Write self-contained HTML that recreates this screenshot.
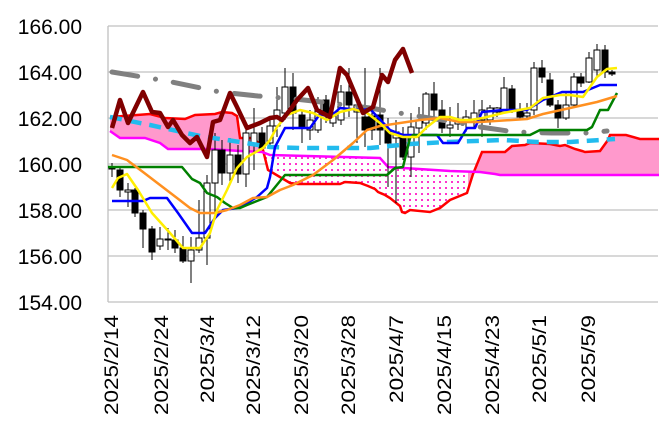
<!DOCTYPE html>
<html><head><meta charset="utf-8"><style>body{margin:0;background:#fff}svg{display:block}</style></head><body>
<svg width="659" height="427" xmlns="http://www.w3.org/2000/svg" font-family="Liberation Sans, sans-serif">
<defs>
<pattern id="dots" width="6" height="6" patternUnits="userSpaceOnUse"><rect width="6" height="6" fill="#fff"/><rect x="1" y="1" width="2" height="2" fill="#ff33cc"/></pattern>
<clipPath id="c1"><rect x="100" y="0" width="165" height="427"/><rect x="468" y="0" width="200" height="427"/></clipPath>
<clipPath id="c2"><rect x="265" y="0" width="203" height="427"/></clipPath>
</defs>
<g stroke="#c0c0c0" stroke-width="1.3">
<line x1="108" y1="26" x2="658" y2="26"/><line x1="108" y1="72" x2="658" y2="72"/><line x1="108" y1="118" x2="658" y2="118"/><line x1="108" y1="164" x2="658" y2="164"/><line x1="108" y1="210" x2="658" y2="210"/><line x1="108" y1="256" x2="658" y2="256"/><line x1="108" y1="302" x2="658" y2="302"/><line x1="108" y1="26" x2="108" y2="302"/>
</g>
<g font-size="21" text-anchor="end" fill="#000">
<text x="82" y="34">166.00</text><text x="82" y="80">164.00</text><text x="82" y="126">162.00</text><text x="82" y="172">160.00</text><text x="82" y="218">158.00</text><text x="82" y="264">156.00</text><text x="82" y="310">154.00</text>
</g>
<g font-size="19" text-anchor="end" fill="#000">
<text transform="translate(118,315) rotate(-90)" textLength="100" lengthAdjust="spacingAndGlyphs">2025/2/14</text>
<text transform="translate(168,315) rotate(-90)" textLength="100" lengthAdjust="spacingAndGlyphs">2025/2/24</text>
<text transform="translate(214,315) rotate(-90)" textLength="88" lengthAdjust="spacingAndGlyphs">2025/3/4</text>
<text transform="translate(260,315) rotate(-90)" textLength="100" lengthAdjust="spacingAndGlyphs">2025/3/12</text>
<text transform="translate(308,315) rotate(-90)" textLength="100" lengthAdjust="spacingAndGlyphs">2025/3/20</text>
<text transform="translate(355,315) rotate(-90)" textLength="100" lengthAdjust="spacingAndGlyphs">2025/3/28</text>
<text transform="translate(403,315) rotate(-90)" textLength="88" lengthAdjust="spacingAndGlyphs">2025/4/7</text>
<text transform="translate(451,315) rotate(-90)" textLength="100" lengthAdjust="spacingAndGlyphs">2025/4/15</text>
<text transform="translate(499,315) rotate(-90)" textLength="100" lengthAdjust="spacingAndGlyphs">2025/4/23</text>
<text transform="translate(546,315) rotate(-90)" textLength="88" lengthAdjust="spacingAndGlyphs">2025/5/1</text>
<text transform="translate(595,315) rotate(-90)" textLength="88" lengthAdjust="spacingAndGlyphs">2025/5/9</text>
</g>
<g id="cloud">
<polygon clip-path="url(#c1)" fill="#ff99cc" points="110,117 150,114 165,118 185,119 195,115 215,114 222,112 232,113 237,116 240,138 253,138 262,146 268,170 290,183 298,184 340,184 345,182 360,183 368,186 375,189 378,192 385,195 390,198 400,206 402,212 405,213 410,210 430,212 440,208 450,200 467,193 473,174 482,152 505,152 512,146 525,145 530,143 550,144 560,146 565,145 575,149 582,151 585,152 600,151 608,140 610,135 626,135 640,139 660,139 660,175 530,175 500,175 495,174 480,172 450,171 388,167 380,158 270,155 262,152 240,151 210,149 168,149 160,143 145,138 120,138 110,131"/>
<polygon clip-path="url(#c2)" fill="url(#dots)" points="110,117 150,114 165,118 185,119 195,115 215,114 222,112 232,113 237,116 240,138 253,138 262,146 268,170 290,183 298,184 340,184 345,182 360,183 368,186 375,189 378,192 385,195 390,198 400,206 402,212 405,213 410,210 430,212 440,208 450,200 467,193 473,174 482,152 505,152 512,146 525,145 530,143 550,144 560,146 565,145 575,149 582,151 585,152 600,151 608,140 610,135 626,135 640,139 660,139 660,175 530,175 500,175 495,174 480,172 450,171 388,167 380,158 270,155 262,152 240,151 210,149 168,149 160,143 145,138 120,138 110,131"/>
<polyline fill="none" stroke="#ff0000" stroke-width="2.5" points="110,117 150,114 165,118 185,119 195,115 215,114 222,112 232,113 237,116 240,138 253,138 262,146 268,170 290,183 298,184 340,184 345,182 360,183 368,186 375,189 378,192 385,195 390,198 400,206 402,212 405,213 410,210 430,212 440,208 450,200 467,193 473,174 482,152 505,152 512,146 525,145 530,143 550,144 560,146 565,145 575,149 582,151 585,152 600,151 608,140 610,135 626,135 640,139 660,139"/>
<polyline fill="none" stroke="#ff00ff" stroke-width="2.5" points="110,131 120,138 145,138 160,143 168,149 210,149 240,151 262,152 270,155 380,158 388,167 450,171 480,172 495,174 500,175 530,175 660,175"/>
</g>
<g stroke="#000" stroke-width="1" shape-rendering="crispEdges">
<line x1="112" y1="163" x2="112" y2="177"/><rect x="109" y="167" width="6" height="2" fill="#000"/>
<line x1="120" y1="167" x2="120" y2="197"/><rect x="117" y="170" width="6" height="20" fill="#000"/>
<line x1="128" y1="183" x2="128" y2="207"/><rect x="125" y="190" width="6" height="2" fill="#fff"/>
<line x1="135" y1="188" x2="135" y2="217"/><rect x="132" y="190" width="6" height="23" fill="#000"/>
<line x1="143" y1="210" x2="143" y2="248"/><rect x="140" y="213" width="6" height="16" fill="#000"/>
<line x1="152" y1="226" x2="152" y2="260"/><rect x="149" y="229" width="6" height="23" fill="#000"/>
<line x1="160" y1="227" x2="160" y2="250"/><rect x="157" y="239" width="6" height="7" fill="#fff"/>
<line x1="168" y1="228" x2="168" y2="250"/><rect x="165" y="239" width="6" height="1" fill="#fff"/>
<line x1="175" y1="230" x2="175" y2="253"/><rect x="172" y="240" width="6" height="8" fill="#000"/>
<line x1="183" y1="236" x2="183" y2="263"/><rect x="180" y="248" width="6" height="13" fill="#000"/>
<line x1="191" y1="237" x2="191" y2="283"/><rect x="188" y="250" width="6" height="11" fill="#fff"/>
<line x1="199" y1="200" x2="199" y2="253"/><rect x="196" y="238" width="6" height="12" fill="#fff"/>
<line x1="207" y1="175" x2="207" y2="265"/><rect x="204" y="183" width="6" height="55" fill="#fff"/>
<line x1="215" y1="133" x2="215" y2="220"/><rect x="212" y="150" width="6" height="33" fill="#fff"/>
<line x1="222" y1="140" x2="222" y2="185"/><rect x="219" y="150" width="6" height="23" fill="#000"/>
<line x1="230" y1="138" x2="230" y2="183"/><rect x="227" y="155" width="6" height="18" fill="#fff"/>
<line x1="238" y1="145" x2="238" y2="183"/><rect x="235" y="155" width="6" height="19" fill="#000"/>
<line x1="246" y1="127" x2="246" y2="187"/><rect x="243" y="133" width="6" height="41" fill="#fff"/>
<line x1="254" y1="108" x2="254" y2="170"/><rect x="251" y="133" width="6" height="10" fill="#fff"/>
<line x1="262" y1="127" x2="262" y2="150"/><rect x="259" y="133" width="6" height="15" fill="#000"/>
<line x1="270" y1="120" x2="270" y2="147"/><rect x="267" y="126" width="6" height="17" fill="#fff"/>
<line x1="277" y1="87" x2="277" y2="137"/><rect x="274" y="110" width="6" height="16" fill="#fff"/>
<line x1="285" y1="68" x2="285" y2="120"/><rect x="282" y="87" width="6" height="26" fill="#fff"/>
<line x1="293" y1="73" x2="293" y2="130"/><rect x="290" y="87" width="6" height="26" fill="#000"/>
<line x1="302" y1="110" x2="302" y2="143"/><rect x="299" y="115" width="6" height="13" fill="#000"/>
<line x1="310" y1="110" x2="310" y2="140"/><rect x="307" y="120" width="6" height="10" fill="#fff"/>
<line x1="318" y1="97" x2="318" y2="133"/><rect x="315" y="100" width="6" height="30" fill="#fff"/>
<line x1="326" y1="95" x2="326" y2="123"/><rect x="323" y="100" width="6" height="13" fill="#000"/>
<line x1="333" y1="105" x2="333" y2="127"/><rect x="330" y="113" width="6" height="10" fill="#fff"/>
<line x1="341" y1="85" x2="341" y2="125"/><rect x="338" y="92" width="6" height="28" fill="#fff"/>
<line x1="349" y1="68" x2="349" y2="117"/><rect x="346" y="92" width="6" height="13" fill="#000"/>
<line x1="357" y1="97" x2="357" y2="143"/><rect x="354" y="105" width="6" height="7" fill="#fff"/>
<line x1="365" y1="68" x2="365" y2="147"/><rect x="362" y="117" width="6" height="13" fill="#000"/>
<line x1="372" y1="110" x2="372" y2="140"/><rect x="369" y="116" width="6" height="14" fill="#000"/>
<line x1="380" y1="68" x2="380" y2="145"/><rect x="377" y="115" width="6" height="15" fill="#000"/>
<line x1="388" y1="118" x2="388" y2="187"/><rect x="385" y="130" width="6" height="13" fill="#000"/>
<line x1="396" y1="120" x2="396" y2="203"/><rect x="393" y="132" width="6" height="6" fill="#fff"/>
<line x1="403" y1="127" x2="403" y2="160"/><rect x="400" y="137" width="6" height="20" fill="#000"/>
<line x1="411" y1="113" x2="411" y2="177"/><rect x="408" y="127" width="6" height="30" fill="#fff"/>
<line x1="419" y1="107" x2="419" y2="153"/><rect x="416" y="120" width="6" height="8" fill="#fff"/>
<line x1="426" y1="92" x2="426" y2="130"/><rect x="423" y="94" width="6" height="29" fill="#fff"/>
<line x1="434" y1="82" x2="434" y2="117"/><rect x="431" y="94" width="6" height="16" fill="#000"/>
<line x1="442" y1="100" x2="442" y2="133"/><rect x="439" y="110" width="6" height="18" fill="#000"/>
<line x1="450" y1="107" x2="450" y2="137"/><rect x="447" y="125" width="6" height="3" fill="#fff"/>
<line x1="458" y1="103" x2="458" y2="130"/><rect x="455" y="121" width="6" height="3" fill="#fff"/>
<line x1="466" y1="110" x2="466" y2="132"/><rect x="463" y="117" width="6" height="4" fill="#fff"/>
<line x1="474" y1="100" x2="474" y2="127"/><rect x="471" y="113" width="6" height="7" fill="#fff"/>
<line x1="482" y1="100" x2="482" y2="137"/><rect x="479" y="110" width="6" height="10" fill="#fff"/>
<line x1="490" y1="105" x2="490" y2="125"/><rect x="487" y="108" width="6" height="12" fill="#fff"/>
<line x1="497" y1="107" x2="497" y2="117"/><rect x="494" y="108" width="6" height="4" fill="#fff"/>
<line x1="504" y1="77" x2="504" y2="113"/><rect x="501" y="88" width="6" height="24" fill="#fff"/>
<line x1="512" y1="85" x2="512" y2="113"/><rect x="509" y="89" width="6" height="22" fill="#000"/>
<line x1="520" y1="103" x2="520" y2="120"/><rect x="517" y="110" width="6" height="7" fill="#000"/>
<line x1="527" y1="103" x2="527" y2="120"/><rect x="524" y="113" width="6" height="3" fill="#fff"/>
<line x1="534" y1="62" x2="534" y2="115"/><rect x="531" y="68" width="6" height="42" fill="#fff"/>
<line x1="542" y1="60" x2="542" y2="83"/><rect x="539" y="68" width="6" height="9" fill="#000"/>
<line x1="550" y1="73" x2="550" y2="107"/><rect x="547" y="80" width="6" height="25" fill="#000"/>
<line x1="558" y1="100" x2="558" y2="128"/><rect x="555" y="105" width="6" height="13" fill="#000"/>
<line x1="566" y1="93" x2="566" y2="120"/><rect x="563" y="105" width="6" height="13" fill="#fff"/>
<line x1="574" y1="73" x2="574" y2="107"/><rect x="571" y="77" width="6" height="28" fill="#fff"/>
<line x1="581" y1="73" x2="581" y2="87"/><rect x="578" y="77" width="6" height="6" fill="#000"/>
<line x1="589" y1="52" x2="589" y2="83"/><rect x="586" y="58" width="6" height="24" fill="#fff"/>
<line x1="597" y1="44" x2="597" y2="78"/><rect x="594" y="50" width="6" height="20" fill="#fff"/>
<line x1="605" y1="45" x2="605" y2="78"/><rect x="602" y="50" width="6" height="22" fill="#000"/>
<line x1="612" y1="70" x2="612" y2="76"/><rect x="609" y="72" width="6" height="2" fill="#000"/>
</g>
<g fill="none" stroke-linejoin="round">
<polyline stroke="#808080" stroke-width="5" stroke-linecap="round" stroke-dasharray="26,18,0.1,18" points="112,72 167,81 220,92 258,96 295,99 313,101 370,108 405,114 460,123 480,127 515,132 552,133 588,133 607,131"/>
<polyline stroke="#22bbee" stroke-width="4.5" stroke-dasharray="12,8" points="110,117 150,125 200,136 240,142 270,147 300,148 370,148 410,144 447,142 503,140 537,142 570,142 615,139"/>
<polyline stroke="#0000ff" stroke-width="2.5" points="112,201 143,201 150,198 167,198 178,213 192,233 205,233 215,218 223,210 237,208 247,203 257,197 267,188 270,177 275,147 285,128 310,128 320,114 330,117 340,108 360,110 370,109 390,130 403,135 437,135 443,143 458,143 467,128 475,128 482,112 503,110 527,110 543,100 562,92 583,92 600,85 617,85"/>
<polyline stroke="#008000" stroke-width="2.5" points="108,167 182,167 192,179 200,183 207,193 217,197 225,203 233,208 240,208 247,205 267,197 285,175 387,175 395,168 403,167 410,138 413,135 530,135 540,130 587,130 592,127 600,110 608,110 617,93"/>
<polyline stroke="#ff9020" stroke-width="2.5" points="112,155 127,160 143,172 160,185 177,198 190,208 200,213 215,213 227,210 240,205 253,198 267,197 280,190 293,185 313,175 333,160 353,143 367,130 380,126 420,120 440,118 460,122 480,122 527,119 543,114 570,108 597,102 617,96"/>
<polyline stroke="#ffee00" stroke-width="2.5" points="112,188 118,178 127,174 138,190 152,213 170,233 183,248 200,248 210,233 217,210 227,190 237,168 247,157 263,148 270,140 277,127 287,115 300,110 313,113 327,120 340,112 353,109 367,113 380,123 390,133 403,137 417,137 427,127 440,117 450,117 460,120 470,120 483,118 503,113 530,108 543,98 560,95 570,95 583,97 597,77 607,69 617,68"/>
<polyline stroke="#800000" stroke-width="4.5" points="112,128 120,100 128,123 143,92 152,112 160,113 168,127 173,120 182,135 190,143 197,137 207,157 213,122 220,120 230,93 237,107 247,128 260,123 270,118 277,117 282,120 290,110 297,100 308,88 317,110 330,117 340,68 347,75 363,113 373,107 382,75 388,82 395,60 403,49 412,73"/>
</g>
</svg>
</body></html>
